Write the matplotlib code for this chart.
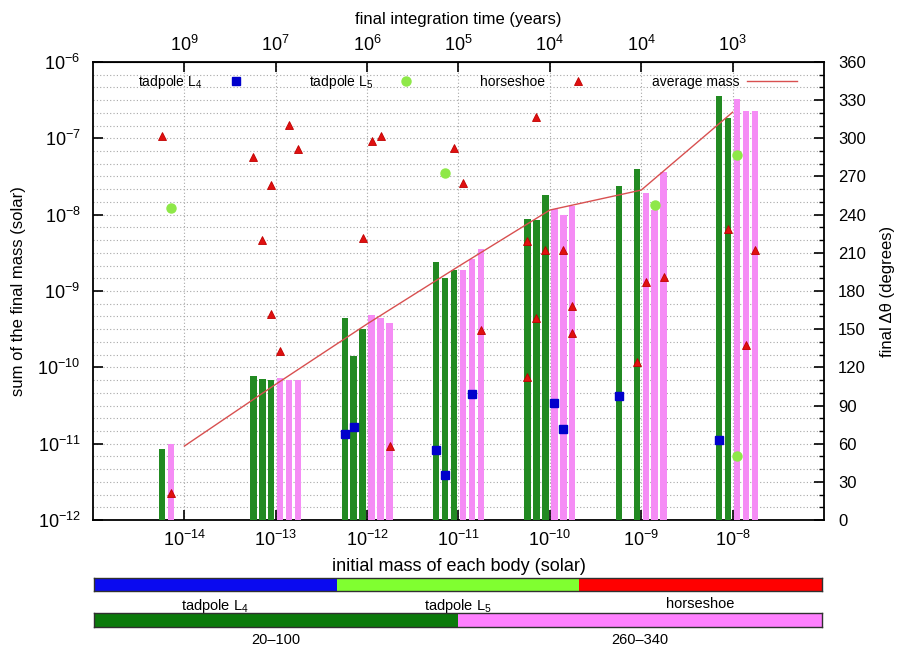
import numpy as np
import matplotlib.pyplot as plt
from matplotlib.ticker import MultipleLocator, NullLocator
from matplotlib.lines import Line2D

plt.rcParams['font.family'] = ['Liberation Sans', 'DejaVu Sans']
plt.rcParams['mathtext.fontset'] = 'custom'
plt.rcParams['mathtext.rm'] = 'Liberation Sans'
plt.rcParams['mathtext.it'] = 'Liberation Sans:italic'
plt.rcParams['mathtext.default'] = 'regular'

# initial mass of each body (10^n solar) and final integration time (10^n years)
mass_exp = [-14, -13, -12, -11, -10, -9, -8]
time_exp = [9, 7, 6, 5, 4, 4, 3]
avg_mass = [9.3e-12, 6.0e-11, 3.7e-10, 2.1e-9, 1.15e-8, 2.1e-8, 2.2e-7]

# bars: mass group, slot inside the group, sum of the final mass
green_exp = [-14, -13, -13, -13, -12, -12, -12, -11, -11, -11, -10, -10, -10, -9, -9, -8, -8]
green_slot = [0, 0, 1, 2, 0, 1, 2, 0, 1, 2, 0, 1, 2, 0, 2, 1, 2]
green_mass = [8.5e-12, 7.7e-11, 7.1e-11, 6.8e-11, 4.4e-10, 1.4e-10, 3.2e-10,
              2.4e-9, 1.5e-9, 1.9e-9, 8.7e-9, 8.4e-9, 1.8e-8, 2.4e-8, 4.0e-8,
              3.6e-7, 1.85e-7]

pink_exp = [-14, -13, -13, -13, -12, -12, -12, -11, -11, -11, -10, -10, -10,
            -9, -9, -9, -8, -8, -8]
pink_slot = [1, 3, 4, 5, 3, 4, 5, 3, 4, 5, 3, 4, 5, 3, 4, 5, 3, 4, 5]
pink_mass = [1.0e-11, 7.2e-11, 6.8e-11, 6.9e-11, 4.8e-10, 4.4e-10, 3.8e-10,
             1.9e-9, 2.6e-9, 3.5e-9, 1.18e-8, 1.0e-8, 1.3e-8,
             1.9e-8, 1.15e-8, 3.6e-8, 3.3e-7, 2.3e-7, 2.3e-7]

# final delta theta of each body (degrees)
l4_exp = [-12, -12, -11, -11, -11, -10, -10, -9, -8]
l4_slot = [0, 1, 0, 1, 4, 3, 4, 0, 1]
l4_deg = [67.6, 73.4, 55, 35.4, 98.8, 92, 71.5, 97.7, 63]

l5_exp = [-14, -11, -9, -8, -8]
l5_slot = [1, 1, 4, 3, 3]
l5_deg = [245, 272.5, 247.6, 287, 50.6]

hs_exp = [-14, -14, -13, -13, -13, -13, -13, -13, -13, -12, -12, -12, -12,
          -11, -11, -11, -10, -10, -10, -10, -10, -10, -10, -10,
          -9, -9, -9, -8, -8, -8]
hs_slot = [0, 1, 0, 1, 2, 2, 3, 4, 5, 2, 3, 4, 5,
           2, 3, 5, 0, 0, 1, 1, 2, 4, 5, 5,
           2, 3, 5, 2, 4, 5]
hs_deg = [302, 21, 285.6, 220, 263, 161.7, 133, 310.5, 292, 221.5, 298, 302, 58,
          292.7, 264.7, 149, 219, 112.7, 317, 158.6, 212, 212, 168, 147,
          124, 187, 191, 229, 137.6, 212]

# colour boxes under the plot
class_labels = ['tadpole L$_4$', 'tadpole L$_5$', 'horseshoe']
class_colors = ['#0a0af0', '#80ff30', '#ff0000']
range_labels = ['20\u2013100', '260\u2013340']
range_colors = ['#0b7a0b', '#ff80ff']

slot_step = 0.098   # decades between bars of one group
bar_w = 0.07        # bar width in decades


def slot_x(e, s, shift=0.0):
    return 10.0 ** (np.asarray(e) + (np.asarray(s) - 2.5) * slot_step + shift)


fig = plt.figure(figsize=(9.07, 6.48), dpi=100)
rect = [93 / 907, 1 - 520 / 648, 731 / 907, 458 / 648]

# degrees axis at the bottom of the stack only for grid + right ticks
ax_deg = fig.add_axes(rect)
ax_deg.set_xscale('log')
ax_deg.set_xlim(1e-15, 1e-7)
ax_deg.set_ylim(0, 360)
ax_deg.yaxis.set_major_locator(MultipleLocator(30))
ax_deg.yaxis.set_minor_locator(MultipleLocator(10))
ax_deg.yaxis.tick_right()
ax_deg.yaxis.set_label_position('right')
ax_deg.grid(True, which='both', axis='y', color='#a8a8a8', lw=0.8, ls=(0, (1, 2)))
ax_deg.grid(True, which='major', axis='x', color='#a8a8a8', lw=0.8, ls=(0, (1, 2)))
ax_deg.set_xticks([10.0 ** e for e in mass_exp])
ax_deg.xaxis.set_minor_locator(NullLocator())
ax_deg.tick_params(axis='x', which='both', length=0, labelbottom=False)
ax_deg.tick_params(axis='y', which='major', direction='in', length=7, width=1.2,
                   labelsize=12, pad=10)
ax_deg.tick_params(axis='y', which='minor', direction='in', length=3.5, width=1)
ax_deg.set_ylabel('final \u0394\u03b8 (degrees)', fontsize=12, labelpad=10)
for sp in ax_deg.spines.values():
    sp.set_linewidth(1.3)

# mass axis with the bars
ax = fig.add_axes(rect, sharex=ax_deg)
ax.patch.set_visible(False)
ax.set_yscale('log')
ax.set_ylim(1e-12, 1e-6)
ax.yaxis.set_minor_locator(NullLocator())
ax.set_xticks([10.0 ** e for e in mass_exp])
ax.xaxis.set_minor_locator(NullLocator())
ax.tick_params(axis='both', which='major', direction='in', length=7, width=1.2,
               labelsize=13, pad=7)
ax.tick_params(axis='y', pad=9)
for sp in ax.spines.values():
    sp.set_visible(False)

gl = slot_x(green_exp, green_slot, -bar_w / 2)
gr = slot_x(green_exp, green_slot, bar_w / 2)
ax.bar(gl, green_mass, width=gr - gl, align='edge', color='#228a22', lw=0)
pl = slot_x(pink_exp, pink_slot, -bar_w / 2)
pr = slot_x(pink_exp, pink_slot, bar_w / 2)
ax.bar(pl, pink_mass, width=pr - pl, align='edge', color='#f58cf5', lw=0)
avg_line, = ax.plot([10.0 ** e for e in mass_exp], avg_mass, color='#d85050', lw=1)
ax.set_xlabel('initial mass of each body (solar)', fontsize=13, labelpad=6)
ax.set_ylabel('sum of the final mass (solar)', fontsize=12, labelpad=8)

top = ax.secondary_xaxis('top')
top.set_xticks([10.0 ** e for e in mass_exp],
               [r'$\mathdefault{10^{%d}}$' % t for t in time_exp])
top.xaxis.set_minor_locator(NullLocator())
top.tick_params(direction='in', length=7, width=1.2, labelsize=13, pad=5)
top.set_xlabel('final integration time (years)', fontsize=12, labelpad=8)

# markers on top of everything
ax_mk = fig.add_axes(rect, sharex=ax_deg)
ax_mk.patch.set_visible(False)
ax_mk.set_ylim(0, 360)
ax_mk.axis('off')
ax_mk.plot(slot_x(l4_exp, l4_slot), l4_deg, 's', color='#0000cc', ms=6, ls='none')
ax_mk.plot(slot_x(l5_exp, l5_slot), l5_deg, 'o', color='#8ee848', ms=6.5, ls='none')
ax_mk.plot(slot_x(hs_exp, hs_slot), hs_deg, '^', color='#e01010', mec='#c00000',
           mew=0.6, ms=5.5, ls='none')

handles = [Line2D([], [], marker='s', color='#0000cc', ms=6, ls='none'),
           Line2D([], [], marker='o', color='#8ee848', ms=6.5, ls='none'),
           Line2D([], [], marker='^', color='#e01010', mec='#c00000', mew=0.6,
                  ms=5.5, ls='none'),
           avg_line]
ax_mk.legend(handles, class_labels + ['average mass'], ncol=4, loc='upper left',
             bbox_to_anchor=(0.05, 0.995, 0.925, 0), mode='expand', frameon=False,
             markerfirst=False, fontsize=10, handlelength=3.6, handletextpad=0.6,
             borderaxespad=0.2)

# colour boxes
cb1 = fig.add_axes([94 / 907, 1 - 591 / 648, 728 / 907, 13.5 / 648])
for i, c in enumerate(class_colors):
    cb1.bar(i, 1, width=1, align='edge', color=c, lw=0)
cb1.set_xlim(0, len(class_colors))
cb1.set_ylim(0, 1)
cb1.set_yticks([])
cb1.set_xticks(np.arange(len(class_labels)) + 0.5, class_labels)
cb1.tick_params(axis='x', length=0, labelsize=10.5, pad=4)

cb2 = fig.add_axes([94 / 907, 1 - 627 / 648, 728 / 907, 14 / 648])
for i, c in enumerate(range_colors):
    cb2.bar(i, 1, width=1, align='edge', color=c, lw=0)
cb2.set_xlim(0, len(range_colors))
cb2.set_ylim(0, 1)
cb2.set_yticks([])
cb2.set_xticks(np.arange(len(range_labels)) + 0.5, range_labels)
cb2.tick_params(axis='x', length=0, labelsize=10.5, pad=4)
for cb in (cb1, cb2):
    for sp in cb.spines.values():
        sp.set_linewidth(1)
        sp.set_color('#303030')

fig.savefig('out.png', dpi=100)
plt.close(fig)
